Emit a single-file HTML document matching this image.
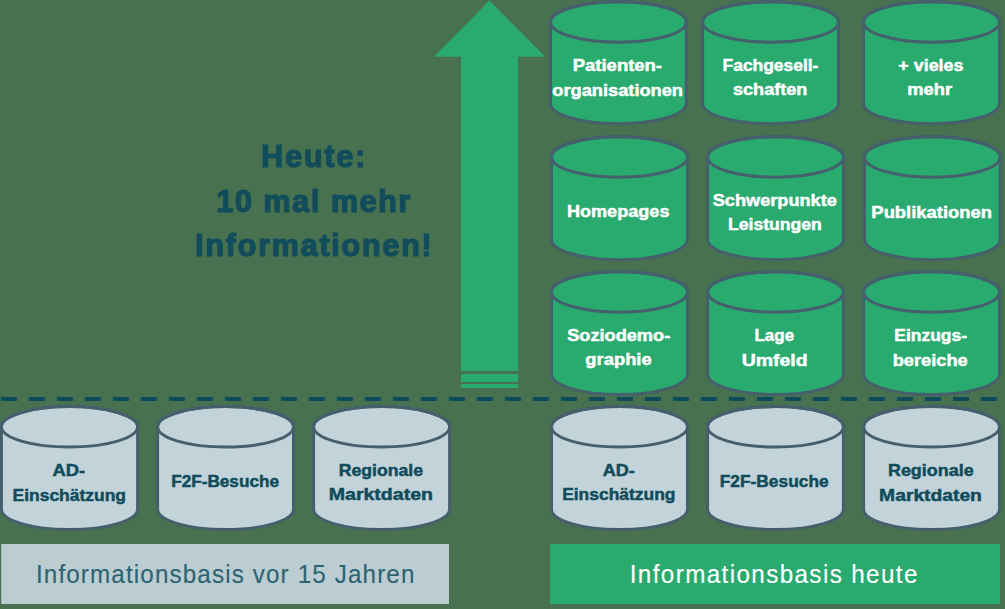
<!DOCTYPE html>
<html><head><meta charset="utf-8"><style>
html,body{margin:0;padding:0;width:1005px;height:609px;overflow:hidden;background:#48714f;}
svg{display:block}
text{font-family:"Liberation Sans",sans-serif;}
</style></head><body>
<svg width="1005" height="609" viewBox="0 0 1005 609">
<rect x="0" y="0" width="1005" height="609" fill="#48714f"/>

<polygon points="489.5,0.5 545.2,56.7 518.1,56.7 518.1,371 461,371 461,56.7 433.8,56.7" fill="#29aa6e"/>
<rect x="461" y="374" width="57.10000000000002" height="8" fill="#29aa6e"/>
<rect x="461" y="384" width="57.10000000000002" height="4" fill="#29aa6e"/>
<rect x="1" y="397" width="16" height="4" fill="#0d4a5a"/>
<rect x="29" y="397" width="16" height="4" fill="#0d4a5a"/>
<rect x="57" y="397" width="16" height="4" fill="#0d4a5a"/>
<rect x="85" y="397" width="16" height="4" fill="#0d4a5a"/>
<rect x="113" y="397" width="16" height="4" fill="#0d4a5a"/>
<rect x="141" y="397" width="16" height="4" fill="#0d4a5a"/>
<rect x="169" y="397" width="16" height="4" fill="#0d4a5a"/>
<rect x="197" y="397" width="16" height="4" fill="#0d4a5a"/>
<rect x="225" y="397" width="16" height="4" fill="#0d4a5a"/>
<rect x="253" y="397" width="16" height="4" fill="#0d4a5a"/>
<rect x="281" y="397" width="16" height="4" fill="#0d4a5a"/>
<rect x="309" y="397" width="16" height="4" fill="#0d4a5a"/>
<rect x="337" y="397" width="16" height="4" fill="#0d4a5a"/>
<rect x="365" y="397" width="16" height="4" fill="#0d4a5a"/>
<rect x="393" y="397" width="16" height="4" fill="#0d4a5a"/>
<rect x="421" y="397" width="16" height="4" fill="#0d4a5a"/>
<rect x="449" y="397" width="16" height="4" fill="#0d4a5a"/>
<rect x="477" y="397" width="16" height="4" fill="#0d4a5a"/>
<rect x="505" y="397" width="16" height="4" fill="#0d4a5a"/>
<rect x="533" y="397" width="16" height="4" fill="#0d4a5a"/>
<rect x="561" y="397" width="16" height="4" fill="#0d4a5a"/>
<rect x="589" y="397" width="16" height="4" fill="#0d4a5a"/>
<rect x="617" y="397" width="16" height="4" fill="#0d4a5a"/>
<rect x="645" y="397" width="16" height="4" fill="#0d4a5a"/>
<rect x="673" y="397" width="16" height="4" fill="#0d4a5a"/>
<rect x="701" y="397" width="16" height="4" fill="#0d4a5a"/>
<rect x="729" y="397" width="16" height="4" fill="#0d4a5a"/>
<rect x="757" y="397" width="16" height="4" fill="#0d4a5a"/>
<rect x="785" y="397" width="16" height="4" fill="#0d4a5a"/>
<rect x="813" y="397" width="16" height="4" fill="#0d4a5a"/>
<rect x="841" y="397" width="16" height="4" fill="#0d4a5a"/>
<rect x="869" y="397" width="16" height="4" fill="#0d4a5a"/>
<rect x="897" y="397" width="16" height="4" fill="#0d4a5a"/>
<rect x="925" y="397" width="16" height="4" fill="#0d4a5a"/>
<rect x="953" y="397" width="16" height="4" fill="#0d4a5a"/>
<rect x="981" y="397" width="16" height="4" fill="#0d4a5a"/>
<path d="M550.5,22.0 A67.89999999999998,20.2 0 0 1 686.3,22.0 L686.3,103.5 A67.89999999999998,20.2 0 0 1 550.5,103.5 Z" fill="#29aa6e" stroke="#455f6d" stroke-width="3.0"/>
<ellipse cx="618.4" cy="22.0" rx="67.89999999999998" ry="20.2" fill="none" stroke="#455f6d" stroke-width="3.0"/>
<path d="M702.6,22.0 A67.94999999999999,20.2 0 0 1 838.5,22.0 L838.5,103.5 A67.94999999999999,20.2 0 0 1 702.6,103.5 Z" fill="#29aa6e" stroke="#455f6d" stroke-width="3.0"/>
<ellipse cx="770.55" cy="22.0" rx="67.94999999999999" ry="20.2" fill="none" stroke="#455f6d" stroke-width="3.0"/>
<path d="M863.5,22.0 A68.0,20.2 0 0 1 999.5,22.0 L999.5,103.5 A68.0,20.2 0 0 1 863.5,103.5 Z" fill="#29aa6e" stroke="#455f6d" stroke-width="3.0"/>
<ellipse cx="931.5" cy="22.0" rx="68.0" ry="20.2" fill="none" stroke="#455f6d" stroke-width="3.0"/>
<path d="M551.5,157.0 A68.0,20.2 0 0 1 687.5,157.0 L687.5,239.5 A68.0,20.2 0 0 1 551.5,239.5 Z" fill="#29aa6e" stroke="#455f6d" stroke-width="3.0"/>
<ellipse cx="619.5" cy="157.0" rx="68.0" ry="20.2" fill="none" stroke="#455f6d" stroke-width="3.0"/>
<path d="M707.6,157.0 A67.94999999999999,20.2 0 0 1 843.5,157.0 L843.5,239.5 A67.94999999999999,20.2 0 0 1 707.6,239.5 Z" fill="#29aa6e" stroke="#455f6d" stroke-width="3.0"/>
<ellipse cx="775.55" cy="157.0" rx="67.94999999999999" ry="20.2" fill="none" stroke="#455f6d" stroke-width="3.0"/>
<path d="M864.5,157.0 A67.85000000000002,20.2 0 0 1 1000.2,157.0 L1000.2,239.5 A67.85000000000002,20.2 0 0 1 864.5,239.5 Z" fill="#29aa6e" stroke="#455f6d" stroke-width="3.0"/>
<ellipse cx="932.35" cy="157.0" rx="67.85000000000002" ry="20.2" fill="none" stroke="#455f6d" stroke-width="3.0"/>
<path d="M551.5,292.0 A68.0,20.2 0 0 1 687.5,292.0 L687.5,374.3 A68.0,20.2 0 0 1 551.5,374.3 Z" fill="#29aa6e" stroke="#455f6d" stroke-width="3.0"/>
<ellipse cx="619.5" cy="292.0" rx="68.0" ry="20.2" fill="none" stroke="#455f6d" stroke-width="3.0"/>
<path d="M707.6,292.0 A67.89999999999998,20.2 0 0 1 843.4,292.0 L843.4,374.3 A67.89999999999998,20.2 0 0 1 707.6,374.3 Z" fill="#29aa6e" stroke="#455f6d" stroke-width="3.0"/>
<ellipse cx="775.5" cy="292.0" rx="67.89999999999998" ry="20.2" fill="none" stroke="#455f6d" stroke-width="3.0"/>
<path d="M863.6,292.0 A67.94999999999999,20.2 0 0 1 999.5,292.0 L999.5,374.3 A67.94999999999999,20.2 0 0 1 863.6,374.3 Z" fill="#29aa6e" stroke="#455f6d" stroke-width="3.0"/>
<ellipse cx="931.55" cy="292.0" rx="67.94999999999999" ry="20.2" fill="none" stroke="#455f6d" stroke-width="3.0"/>
<path d="M1.4,426.8 A68.1,20.2 0 0 1 137.6,426.8 L137.6,509.3 A68.1,20.2 0 0 1 1.4,509.3 Z" fill="#c3d3da" stroke="#455f6d" stroke-width="3.0"/>
<ellipse cx="69.5" cy="426.8" rx="68.1" ry="20.2" fill="none" stroke="#455f6d" stroke-width="3.0"/>
<path d="M157.6,426.8 A67.95,20.2 0 0 1 293.5,426.8 L293.5,509.3 A67.95,20.2 0 0 1 157.6,509.3 Z" fill="#c3d3da" stroke="#455f6d" stroke-width="3.0"/>
<ellipse cx="225.55" cy="426.8" rx="67.95" ry="20.2" fill="none" stroke="#455f6d" stroke-width="3.0"/>
<path d="M313.6,426.8 A68.0,20.2 0 0 1 449.6,426.8 L449.6,509.3 A68.0,20.2 0 0 1 313.6,509.3 Z" fill="#c3d3da" stroke="#455f6d" stroke-width="3.0"/>
<ellipse cx="381.6" cy="426.8" rx="68.0" ry="20.2" fill="none" stroke="#455f6d" stroke-width="3.0"/>
<path d="M551.5,426.8 A68.0,20.2 0 0 1 687.5,426.8 L687.5,509.3 A68.0,20.2 0 0 1 551.5,509.3 Z" fill="#c3d3da" stroke="#455f6d" stroke-width="3.0"/>
<ellipse cx="619.5" cy="426.8" rx="68.0" ry="20.2" fill="none" stroke="#455f6d" stroke-width="3.0"/>
<path d="M707.6,426.8 A67.89999999999998,20.2 0 0 1 843.4,426.8 L843.4,509.3 A67.89999999999998,20.2 0 0 1 707.6,509.3 Z" fill="#c3d3da" stroke="#455f6d" stroke-width="3.0"/>
<ellipse cx="775.5" cy="426.8" rx="67.89999999999998" ry="20.2" fill="none" stroke="#455f6d" stroke-width="3.0"/>
<path d="M863.6,426.8 A67.94999999999999,20.2 0 0 1 999.5,426.8 L999.5,509.3 A67.94999999999999,20.2 0 0 1 863.6,509.3 Z" fill="#c3d3da" stroke="#455f6d" stroke-width="3.0"/>
<ellipse cx="931.55" cy="426.8" rx="67.94999999999999" ry="20.2" fill="none" stroke="#455f6d" stroke-width="3.0"/>
<rect x="1.25" y="544" width="447.75" height="60" fill="#bccdd2"/>
<rect x="550" y="544" width="450" height="60" fill="#29aa6e"/>
<text x="572.74" y="70.80" font-size="17.3" font-weight="bold" fill="#ffffff" stroke="#ffffff" stroke-width="0.5" textLength="89.30" lengthAdjust="spacingAndGlyphs">Patienten-</text>
<text x="552.37" y="95.80" font-size="17.3" font-weight="bold" fill="#ffffff" stroke="#ffffff" stroke-width="0.5" textLength="130.65" lengthAdjust="spacingAndGlyphs">organisationen</text>
<text x="722.55" y="70.90" font-size="17.3" font-weight="bold" fill="#ffffff" stroke="#ffffff" stroke-width="0.5" textLength="95.88" lengthAdjust="spacingAndGlyphs">Fachgesell-</text>
<text x="732.98" y="95.10" font-size="17.3" font-weight="bold" fill="#ffffff" stroke="#ffffff" stroke-width="0.5" textLength="74.47" lengthAdjust="spacingAndGlyphs">schaften</text>
<text x="898.34" y="70.90" font-size="17.3" font-weight="bold" fill="#ffffff" stroke="#ffffff" stroke-width="0.5" textLength="65.11" lengthAdjust="spacingAndGlyphs">+ vieles</text>
<text x="907.32" y="95.10" font-size="17.3" font-weight="bold" fill="#ffffff" stroke="#ffffff" stroke-width="0.5" textLength="44.77" lengthAdjust="spacingAndGlyphs">mehr</text>
<text x="566.94" y="217.40" font-size="17.3" font-weight="bold" fill="#ffffff" stroke="#ffffff" stroke-width="0.5" textLength="102.51" lengthAdjust="spacingAndGlyphs">Homepages</text>
<text x="712.77" y="205.50" font-size="17.3" font-weight="bold" fill="#ffffff" stroke="#ffffff" stroke-width="0.5" textLength="124.06" lengthAdjust="spacingAndGlyphs">Schwerpunkte</text>
<text x="727.99" y="230.10" font-size="17.3" font-weight="bold" fill="#ffffff" stroke="#ffffff" stroke-width="0.5" textLength="93.86" lengthAdjust="spacingAndGlyphs">Leistungen</text>
<text x="871.36" y="217.90" font-size="17.3" font-weight="bold" fill="#ffffff" stroke="#ffffff" stroke-width="0.5" textLength="120.66" lengthAdjust="spacingAndGlyphs">Publikationen</text>
<text x="567.17" y="340.70" font-size="17.3" font-weight="bold" fill="#ffffff" stroke="#ffffff" stroke-width="0.5" textLength="103.06" lengthAdjust="spacingAndGlyphs">Soziodemo-</text>
<text x="585.36" y="365.30" font-size="17.3" font-weight="bold" fill="#ffffff" stroke="#ffffff" stroke-width="0.5" textLength="66.30" lengthAdjust="spacingAndGlyphs">graphie</text>
<text x="754.49" y="341.10" font-size="17.3" font-weight="bold" fill="#ffffff" stroke="#ffffff" stroke-width="0.5" textLength="39.58" lengthAdjust="spacingAndGlyphs">Lage</text>
<text x="741.67" y="365.60" font-size="17.3" font-weight="bold" fill="#ffffff" stroke="#ffffff" stroke-width="0.5" textLength="66.03" lengthAdjust="spacingAndGlyphs">Umfeld</text>
<text x="894.34" y="341.10" font-size="17.3" font-weight="bold" fill="#ffffff" stroke="#ffffff" stroke-width="0.5" textLength="72.73" lengthAdjust="spacingAndGlyphs">Einzugs-</text>
<text x="892.72" y="365.60" font-size="17.3" font-weight="bold" fill="#ffffff" stroke="#ffffff" stroke-width="0.5" textLength="74.94" lengthAdjust="spacingAndGlyphs">bereiche</text>
<text x="52.45" y="475.80" font-size="17.3" font-weight="bold" fill="#104c5b" stroke="#104c5b" stroke-width="0.5" textLength="32.61" lengthAdjust="spacingAndGlyphs">AD-</text>
<text x="12.54" y="500.50" font-size="17.3" font-weight="bold" fill="#104c5b" stroke="#104c5b" stroke-width="0.5" textLength="113.49" lengthAdjust="spacingAndGlyphs">Einschätzung</text>
<text x="171.15" y="487.40" font-size="17.3" font-weight="bold" fill="#104c5b" stroke="#104c5b" stroke-width="0.5" textLength="107.88" lengthAdjust="spacingAndGlyphs">F2F-Besuche</text>
<text x="338.75" y="475.50" font-size="17.3" font-weight="bold" fill="#104c5b" stroke="#104c5b" stroke-width="0.5" textLength="84.29" lengthAdjust="spacingAndGlyphs">Regionale</text>
<text x="328.73" y="500.10" font-size="17.3" font-weight="bold" fill="#104c5b" stroke="#104c5b" stroke-width="0.5" textLength="104.30" lengthAdjust="spacingAndGlyphs">Marktdaten</text>
<text x="602.74" y="475.50" font-size="17.3" font-weight="bold" fill="#104c5b" stroke="#104c5b" stroke-width="0.5" textLength="32.01" lengthAdjust="spacingAndGlyphs">AD-</text>
<text x="562.15" y="500.10" font-size="17.3" font-weight="bold" fill="#104c5b" stroke="#104c5b" stroke-width="0.5" textLength="113.28" lengthAdjust="spacingAndGlyphs">Einschätzung</text>
<text x="719.74" y="487.40" font-size="17.3" font-weight="bold" fill="#104c5b" stroke="#104c5b" stroke-width="0.5" textLength="108.88" lengthAdjust="spacingAndGlyphs">F2F-Besuche</text>
<text x="887.96" y="475.50" font-size="17.3" font-weight="bold" fill="#104c5b" stroke="#104c5b" stroke-width="0.5" textLength="85.67" lengthAdjust="spacingAndGlyphs">Regionale</text>
<text x="879.14" y="500.50" font-size="17.3" font-weight="bold" fill="#104c5b" stroke="#104c5b" stroke-width="0.5" textLength="102.75" lengthAdjust="spacingAndGlyphs">Marktdaten</text>
<text transform="translate(261.11,167.30) scale(0.97,1)" x="0" y="0" font-size="31.5" font-weight="bold" fill="#104c5b" stroke="#104c5b" stroke-width="1.2" textLength="107.24" lengthAdjust="spacing">Heute:</text>
<text transform="translate(216.18,212.10) scale(0.97,1)" x="0" y="0" font-size="31.5" font-weight="bold" fill="#104c5b" stroke="#104c5b" stroke-width="1.2" textLength="200.03" lengthAdjust="spacing">10 mal mehr</text>
<text transform="translate(194.94,256.20) scale(0.97,1)" x="0" y="0" font-size="31.5" font-weight="bold" fill="#104c5b" stroke="#104c5b" stroke-width="1.2" textLength="243.86" lengthAdjust="spacing">Informationen!</text>
<text transform="translate(35.96,582.70) scale(0.97,1)" x="0" y="0" font-size="25" font-weight="normal" fill="#2d6373" stroke="#2d6373" stroke-width="0.15" textLength="390.16" lengthAdjust="spacing">Informationsbasis vor 15 Jahren</text>
<text transform="translate(629.76,583.00) scale(0.97,1)" x="0" y="0" font-size="25" font-weight="normal" fill="#ffffff" stroke="#ffffff" stroke-width="0.15" textLength="296.56" lengthAdjust="spacing">Informationsbasis heute</text>
</svg></body></html>
